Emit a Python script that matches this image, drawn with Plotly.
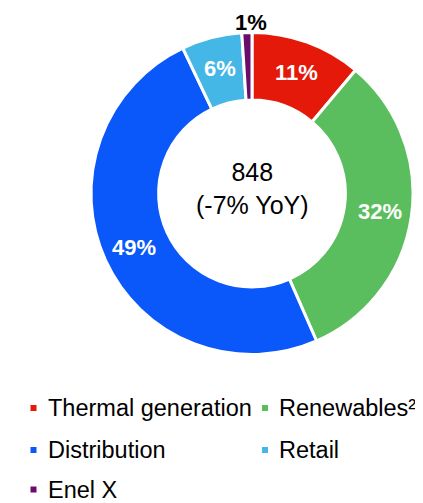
import math
import plotly.graph_objects as go

# ---- data ----
categories = ["Thermal generation", "Renewables²", "Distribution", "Retail", "Enel X"]
shares = [11, 32, 49, 6, 1]
colors = ["#E5190A", "#5ABE5E", "#0A57FA", "#44B7E6", "#6B0B6B"]
label_inside = [True, True, True, True, False]
center_value = "848"
center_change = "(-7% YoY)"

# ---- layout constants (page body has an 8px margin) ----
OFF = 8
W, H = 423 - OFF, 503 - OFF
cx, cy, R = 252 - OFF, 193.5 - OFF, 161
HOLE = 0.58
FONT = "Liberation Sans, Arial, sans-serif"

fig = go.Figure(
    go.Pie(
        labels=categories,
        values=shares,
        sort=False,
        direction="clockwise",
        rotation=0,
        hole=HOLE,
        marker=dict(colors=colors, line=dict(color="white", width=3)),
        textinfo="none",
        domain=dict(x=[(cx - R) / W, (cx + R) / W],
                    y=[1 - (cy + R) / H, 1 - (cy - R) / H]),
        showlegend=False,
        hoverinfo="label+value",
    )
)

annotations = [
    dict(x=cx / W, y=1 - (188 - OFF) / H, xref="paper", yref="paper",
         text=f"{center_value}<br>{center_change}", showarrow=False,
         font=dict(family=FONT, size=25, color="black"),
         xanchor="center", yanchor="middle", align="center")
]

# slice percentage labels, placed at each slice's mid-angle
total = sum(shares)
cum = 0
for v, inside in zip(shares, label_inside):
    theta = 2 * math.pi * (cum + v / 2) / total  # clockwise from 12 o'clock
    cum += v
    rr = R * (1 + HOLE) / 2 + 2 if inside else R + 10
    px = cx + rr * math.sin(theta) + (0 if inside else 4)
    py = cy - rr * math.cos(theta)
    annotations.append(dict(x=px / W, y=1 - py / H, xref="paper", yref="paper",
                            text=f"{v}%", showarrow=False, borderpad=0,
                            font=dict(family=FONT, size=22, weight="bold",
                                      color="white" if inside else "black"),
                            xanchor="center", yanchor="middle"))

shapes = []

# legend (two columns, row-major)
LFS = 23.5
col_marker_x = [33.5 - OFF, 265 - OFF]
col_text_x = [46.5 - OFF, 278 - OFF]
row_y = [408 - OFF, 450 - OFF, 489.5 - OFF]
msize = 6
for i, (cat, col) in enumerate(zip(categories, colors)):
    r, c = divmod(i, 2)
    mx, my = col_marker_x[c], row_y[r]
    shapes.append(dict(type="rect", xref="paper", yref="paper",
                       x0=(mx - msize / 2) / W, x1=(mx + msize / 2) / W,
                       y0=1 - (my + msize / 2) / H, y1=1 - (my - msize / 2) / H,
                       fillcolor=col, line=dict(width=0)))
    annotations.append(dict(x=col_text_x[c] / W, y=1 - my / H,
                            xref="paper", yref="paper",
                            text=cat, showarrow=False, borderpad=0,
                            font=dict(family=FONT, size=LFS, color="black"),
                            xanchor="left", yanchor="middle", align="left"))

fig.update_layout(
    width=W, height=H,
    margin=dict(l=0, r=0, t=0, b=0),
    paper_bgcolor="white", plot_bgcolor="white",
    annotations=annotations, shapes=shapes,
    showlegend=False,
)

fig.write_html("out.html")
